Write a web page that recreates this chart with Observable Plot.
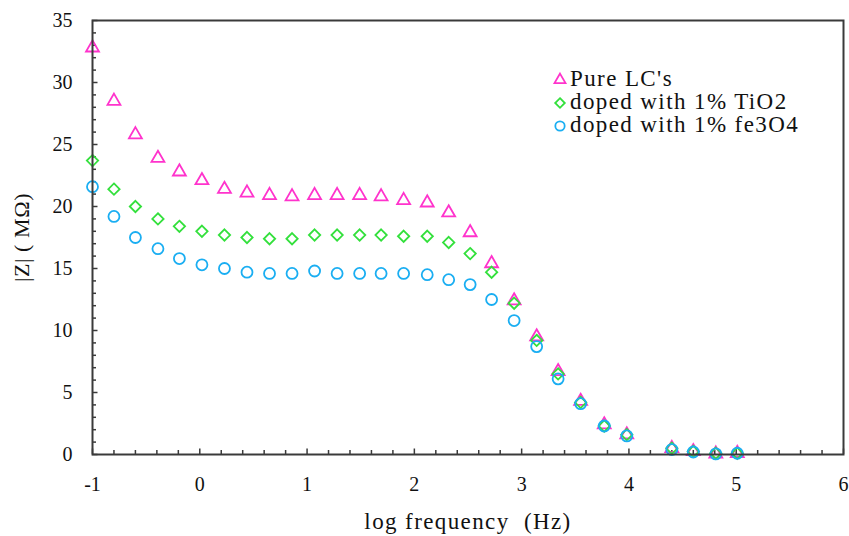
<!DOCTYPE html>
<html><head><meta charset="utf-8">
<script src="https://cdn.jsdelivr.net/npm/d3@7"></script>
<script src="https://cdn.jsdelivr.net/npm/@observablehq/plot@0.6"></script>
<style>
html,body{margin:0;padding:0;background:#fff;}
#wrap{position:relative;width:849px;height:536px;overflow:hidden;}
#legend{position:absolute;left:553px;top:67px;font-family:"Liberation Serif",serif;font-size:23px;letter-spacing:1.4px;color:#111;}
#legend .row{display:flex;align-items:center;height:23px;white-space:nowrap;}
#legend svg{margin-right:3px;overflow:visible;}
</style></head><body><div id="wrap"></div>
<script>
// log frequency (Hz)
const logFreq = [-1, -0.8, -0.6, -0.39, -0.19, 0.02, 0.23, 0.44, 0.65, 0.86, 1.07, 1.28, 1.49, 1.69, 1.9, 2.12, 2.32, 2.52, 2.72, 2.93, 3.14, 3.34, 3.55, 3.77, 3.98, 4.4, 4.6, 4.81, 5.01];
// |Z| (MΩ)
const pureLC = [32.8, 28.5, 25.8, 23.9, 22.8, 22.1, 21.4, 21.1, 20.9, 20.8, 20.9, 20.9, 20.9, 20.8, 20.5, 20.3, 19.5, 17.9, 15.4, 12.4, 9.5, 6.7, 4.3, 2.4, 1.6, 0.5, 0.25, 0.05, 0.1];
const tio2   = [23.7, 21.4, 20.0, 19.0, 18.4, 18.0, 17.7, 17.5, 17.4, 17.4, 17.7, 17.7, 17.7, 17.7, 17.6, 17.6, 17.1, 16.2, 14.7, 12.2, 9.2, 6.5, 4.2, 2.3, 1.6, 0.5, 0.25, 0.1, 0.1];
const fe3o4  = [21.6, 19.2, 17.5, 16.6, 15.8, 15.3, 15.0, 14.7, 14.6, 14.6, 14.8, 14.6, 14.6, 14.6, 14.6, 14.5, 14.1, 13.7, 12.5, 10.8, 8.7, 6.1, 4.1, 2.3, 1.5, 0.4, 0.2, 0.05, 0.1];

const seriesNames = ["Pure LC's", "doped with 1% TiO2", "doped with 1% fe3O4"];
const seriesValues = [pureLC, tio2, fe3o4];
const seriesColors = ["#ff33cc", "#33e03c", "#1aaef2"];
const seriesSymbols = ["triangle", "diamond2", "circle"];
const seriesR = [4.8, 5.1, 5.5];

const xTicks = [-1, 0, 1, 2, 3, 4, 5, 6];
const xMinorTicks = [-0.8,-0.6,-0.4,-0.2,0.2,0.4,0.6,0.8,1.2,1.4,1.6,1.8,2.2,2.4,2.6,2.8,3.2,3.4,3.6,3.8,4.2,4.4,4.6,4.8,5.2,5.4,5.6,5.8];
const yTicks = [0, 5, 10, 15, 20, 25, 30, 35];
const yMinorTicks = [1,2,3,4,6,7,8,9,11,12,13,14,16,17,18,19,21,22,23,24,26,27,28,29,31,32,33,34];

const W = 849, H = 536, mL = 92, mR = 6, mT = 20, mB = 82;
const innerW = W - mL - mR, innerH = H - mT - mB;
const axisColor = "#3a3a3a";

const seriesMarks = seriesNames.map((name, i) =>
  Plot.dot(logFreq.map((x, j) => ({x, y: seriesValues[i][j]})), {
    x: "x", y: "y", symbol: () => seriesSymbols[i], r: seriesR[i],
    stroke: seriesColors[i], strokeWidth: 1.8, fill: "none"
  })
);

const chart = Plot.plot({
  width: W, height: H,
  marginLeft: mL, marginRight: mR, marginTop: mT, marginBottom: mB,
  style: {fontFamily: "'Liberation Serif', serif", fontSize: "20px", color: "#111", background: "#fff"},
  x: {domain: [-1, 6]},
  y: {domain: [0, 35]},
  symbol: {type: "identity"},
  marks: [
    Plot.tickX(xMinorTicks, {x: d => d, insetTop: innerH - 4, stroke: axisColor, strokeWidth: 1.5}),
    Plot.tickX(xTicks, {x: d => d, insetTop: innerH - 5.5, stroke: axisColor, strokeWidth: 1.5}),
    Plot.tickY(yMinorTicks, {y: d => d, insetRight: innerW - 4, stroke: axisColor, strokeWidth: 1.5}),
    Plot.tickY(yTicks, {y: d => d, insetRight: innerW - 5.5, stroke: axisColor, strokeWidth: 1.5}),
    Plot.axisX({ticks: xTicks, tickSize: 0, tickPadding: 22, tickFormat: d => String(d),
      label: "log frequency\u00a0 (Hz)", labelAnchor: "center", labelOffset: 74, labelArrow: "none", fontSize: 20}),
    Plot.axisY({ticks: yTicks, tickSize: 0, tickPadding: 20, tickFormat: d => String(d),
      label: "|Z| ( MΩ)", labelAnchor: "center", labelOffset: 79, labelArrow: "none", fontSize: 20}),
    ...seriesMarks,
    Plot.frame({stroke: axisColor, strokeWidth: 2})
  ]
});

// enlarge the axis titles
const xl = chart.querySelector('g[aria-label="x-axis label"] text');
if (xl) { xl.setAttribute("font-size", "23"); xl.style.letterSpacing = "1.4px"; }
const yl = chart.querySelector('g[aria-label="y-axis label"] text');
if (yl) { yl.setAttribute("font-size", "22"); yl.style.letterSpacing = "0.6px"; }

const wrap = document.getElementById("wrap");
wrap.appendChild(chart);

// legend
const legend = document.createElement("div");
legend.id = "legend";
seriesNames.forEach((name, i) => {
  const row = document.createElement("div");
  row.className = "row";
  const svg = d3.create("svg").attr("width", 14).attr("height", 14);
  const symType = {triangle: d3.symbolTriangle, diamond2: d3.symbolDiamond2, circle: d3.symbolCircle}[seriesSymbols[i]];
  const size = Math.PI * Math.pow(seriesR[i] * 0.85, 2);
  svg.append("path").attr("transform", "translate(7,8)")
    .attr("d", d3.symbol(symType, size)())
    .attr("fill", "none").attr("stroke", seriesColors[i]).attr("stroke-width", 1.8);
  row.appendChild(svg.node());
  const span = document.createElement("span");
  span.textContent = name;
  row.appendChild(span);
  legend.appendChild(row);
});
wrap.appendChild(legend);
</script>
</body></html>
